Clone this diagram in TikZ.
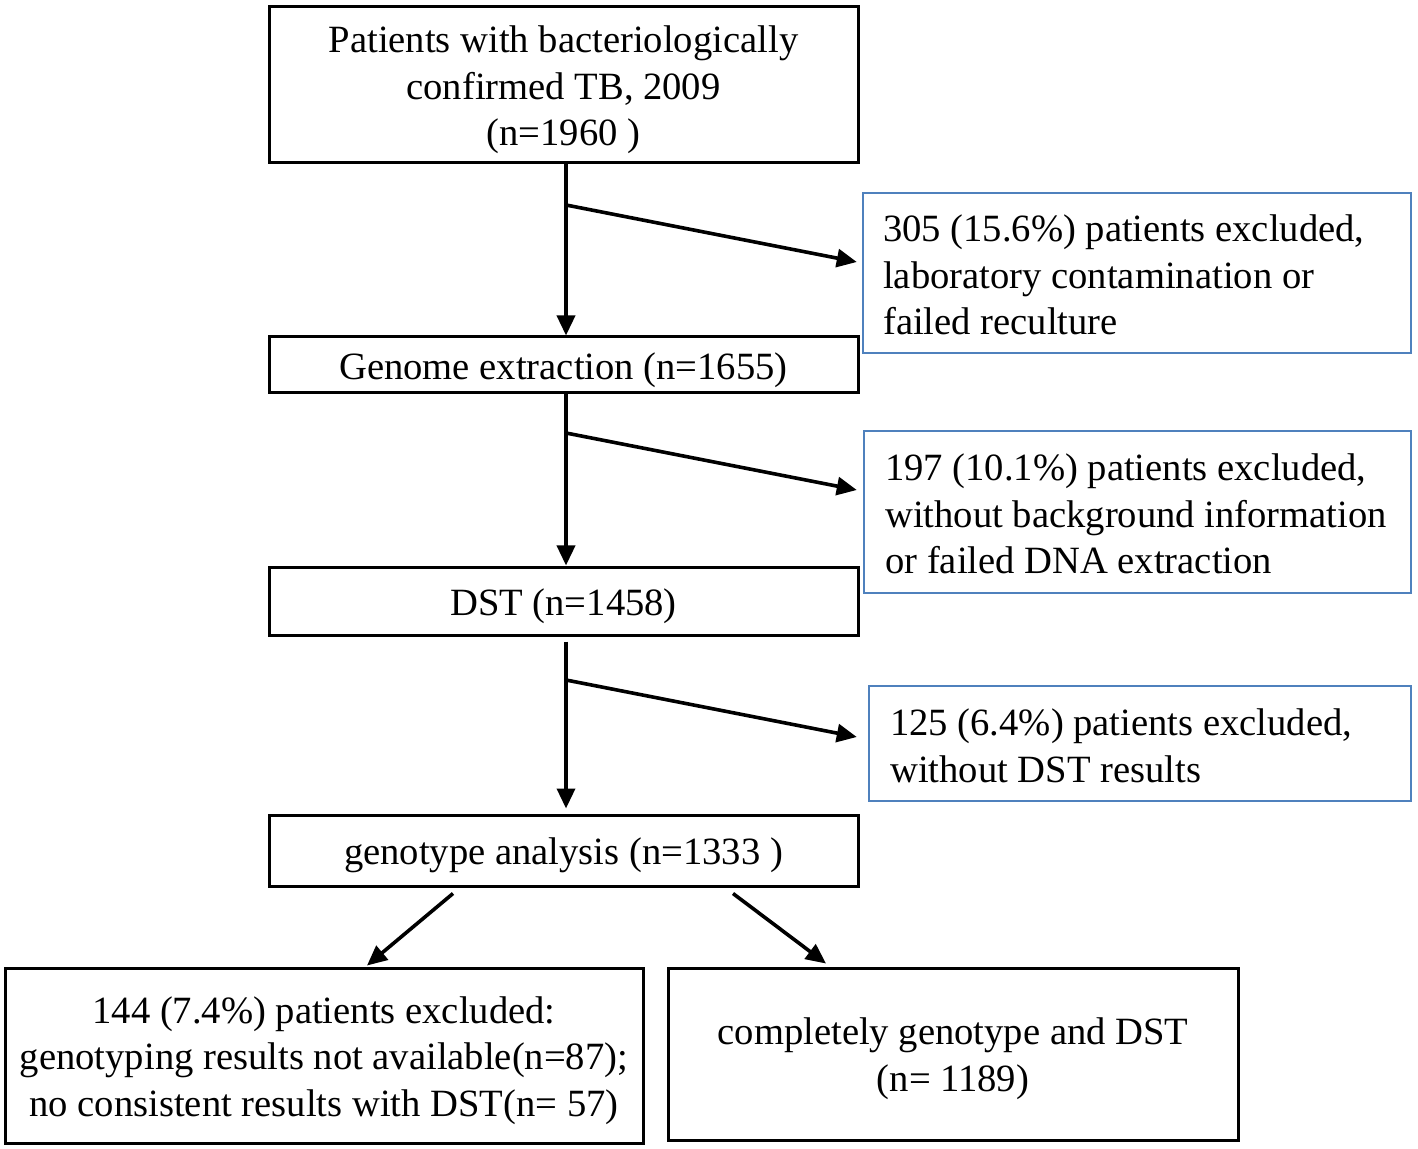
\documentclass[tikz,border=0pt]{standalone}
\usepackage{fontspec}
\setmainfont{Liberation Serif}
\usetikzlibrary{arrows.meta,calc}
\definecolor{boxblue}{RGB}{79,129,189}
\begin{document}
\begin{tikzpicture}[x=0.5pt,y=-0.5pt,
  font=\fontsize{19.3}{23.3}\selectfont,
  blackbox/.style={draw=black,line width=1.5pt,rectangle,inner sep=0pt},
  bluebox/.style={draw=boxblue,line width=1.2pt,rectangle,inner sep=0pt},
  ctext/.style={align=center,inner sep=0pt},
  sidetext/.style={anchor=west,align=left,inner sep=0pt},
  arr/.style={line width=1.8pt,-{Triangle[length=10pt,width=9pt]}}]
\useasboundingbox (0,0) rectangle (1418,1149);

% main column
\node[blackbox,minimum width=294.5pt,minimum height=78pt] (top) at (563.5,85) {};
\node[ctext] (ttop) at ($(top.center)+(0,5)$)
  {Patients with bacteriologically\\confirmed TB, 2009\\(n=1960 )};
\node[blackbox,minimum width=294.5pt,minimum height=28pt] (genome) at (563.5,365) {};
\node[ctext] (tgenome) at ($(genome.center)+(0,5)$) {Genome extraction (n=1655)};
\node[blackbox,minimum width=294.5pt,minimum height=34pt] (dst) at (563.5,601) {};
\node[ctext] (tdst) at ($(dst.center)+(0,5)$) {DST (n=1458)};
\node[blackbox,minimum width=294.5pt,minimum height=35.5pt] (geno) at (563.5,850.5) {};
\node[ctext] (tgeno) at ($(geno.center)+(0,5)$) {genotype analysis (n=1333 )};

% bottom boxes
\node[blackbox,minimum width=319pt,minimum height=87.5pt] (bl) at (324,1055.5) {};
\node[ctext] (tbl) at ($(bl.center)+(0,5)$)
  {144 (7.4\%) patients excluded:\\genotyping results not available(n=87);\\no consistent results with DST(n= 57)};
\node[blackbox,minimum width=285pt,minimum height=86pt] (br) at (953,1054) {};
\node[ctext] (tbr) at ($(br.center)+(0,5)$) {completely genotype and DST\\(n= 1189)};

% side (exclusion) boxes
\node[bluebox,minimum width=274pt,minimum height=80pt] (b1) at (1137,273) {};
\node[sidetext] (t1) at ($(b1.west)+(21,2)$)
  {305 (15.6\%) patients excluded,\\laboratory contamination or\\failed reculture};
\node[bluebox,minimum width=273.5pt,minimum height=81pt] (b2) at (1137.5,512) {};
\node[sidetext] (t2) at ($(b2.west)+(22,2)$)
  {197 (10.1\%) patients excluded,\\without background information\\or failed DNA extraction};
\node[bluebox,minimum width=271pt,minimum height=57.5pt] (b3) at (1140,743.5) {};
\node[sidetext] (t3) at ($(b3.west)+(22,2)$)
  {125 (6.4\%) patients excluded,\\without DST results};

% vertical arrows
\draw[arr] ([xshift=1.25pt]top.south) -- ([xshift=1.25pt]genome.north);
\draw[arr] ([xshift=1.25pt]genome.south) -- ([xshift=1.25pt]dst.north);
\draw[arr] ([xshift=1.25pt,yshift=-2.5pt]dst.south) -- ([xshift=1.25pt,yshift=2.5pt]geno.north);

% branch arrows
\coordinate (s1) at (566,205);
\coordinate (s2) at (566,433);
\coordinate (s3) at (566,680);
\draw[arr] (s1) -- ($(b1.west)+(-5,-11)$);
\draw[arr] (s2) -- ($(b2.west)+(-6,-22)$);
\draw[arr] (s3) -- ($(b3.west)+(-11,-6.5)$);

% diagonal arrows
\draw[arr] ($(geno.south)+(-110.5,6)$) -- ($(bl.north)+(43,-1)$);
\draw[arr] ($(geno.south)+(169.5,6)$) -- ($(br.north)+(-127,-3)$);
\end{tikzpicture}
\end{document}
